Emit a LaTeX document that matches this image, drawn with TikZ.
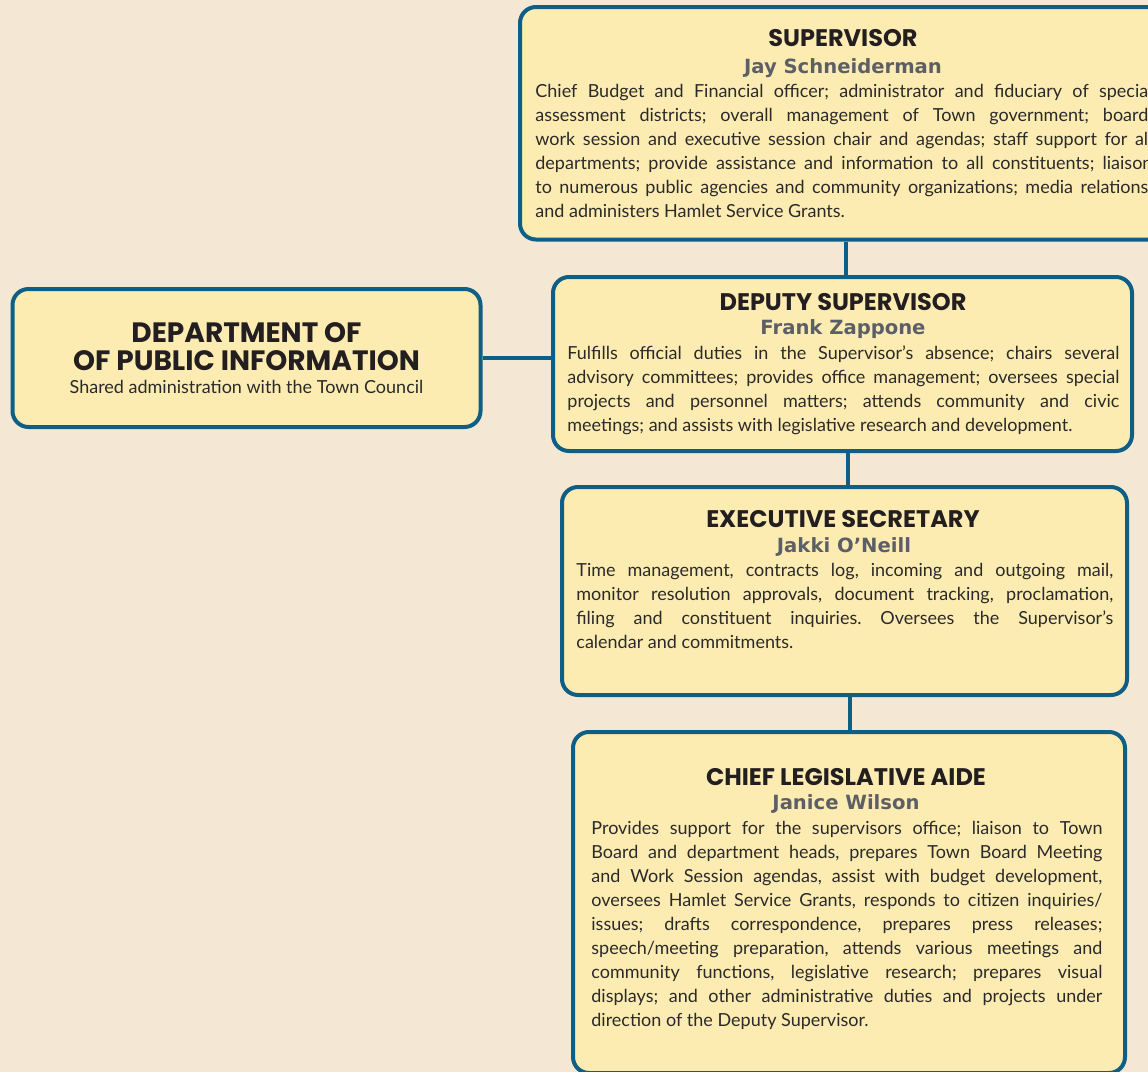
\documentclass[tikz,border=0pt]{standalone}
\usepackage{fontspec}
\setmainfont{Lato}
\newfontfamily\titlefont{Poppins}
\newfontfamily\namefont{DejaVu Sans}
\usetikzlibrary{positioning}

\definecolor{pagebg}{HTML}{F4E7D3}
\definecolor{boxfill}{HTML}{FDECB2}
\definecolor{orgblue}{HTML}{0E5F86}
\definecolor{titleink}{HTML}{231F20}
\definecolor{nameink}{HTML}{5D5F66}
\definecolor{bodyink}{HTML}{2B2A2A}

\tikzset{
  orgbox/.style={draw=orgblue, line width=2pt, fill=boxfill, rounded corners=8pt, inner sep=0pt},
  roletitle/.style={font=\titlefont\bfseries\fontsize{12}{14}\selectfont, text=titleink, anchor=base, inner sep=0pt},
  rolename/.style={font=\namefont\bfseries\fontsize{9.8}{12}\selectfont, text=nameink, anchor=base, inner sep=0pt},
  roletext/.style={font=\fontsize{9}{12}\selectfont\frenchspacing, text=bodyink, anchor=base west, align=justify, inner sep=0pt},
  link/.style={draw=orgblue, line width=2pt}
}

\begin{document}
\begin{tikzpicture}[x=0.5pt, y=-0.5pt]
\useasboundingbox (0,0) rectangle (1148,1072);
\fill[pagebg] (0,0) rectangle (1148,1072);
\clip (0,0) rectangle (1148,1072);

% boxes
\node[orgbox, minimum width=323pt, minimum height=116.25pt] (sup) at (843,123.25) {};
\node[orgbox, minimum width=234pt, minimum height=69pt] (info) at (246.5,358) {};
\node[orgbox, minimum width=289.5pt, minimum height=87pt] (deputy) at (842.5,364) {};
\node[orgbox, minimum width=282.5pt, minimum height=104pt] (secretary) at (844.5,591) {};
\node[orgbox, minimum width=276pt, minimum height=170.5pt] (aide) at (849,902.5) {};

% connectors
\draw[link] ([xshift=1.5pt]sup.south) -- ([xshift=1.5pt]sup.south |- deputy.north);
\draw[link] ([xshift=2.5pt]deputy.south) -- ([xshift=2.5pt]deputy.south |- secretary.north);
\draw[link] ([xshift=2.5pt]secretary.south) -- ([xshift=2.5pt]secretary.south |- aide.north);
\draw[link] (info.east) -- (info.east -| deputy.west);

% supervisor
\node[roletitle] (sup-title) at (843,46) {SUPERVISOR};
\node[rolename] (sup-name) at (843,73) {Jay Schneiderman};
\node[roletext, text width=308.5pt] (sup-text) at (535,97)
  {Chief Budget and Financial officer; administrator and fiduciary of special\linebreak
   assessment districts; overall management of Town government; board,\linebreak
   work session and executive session chair and agendas; staff support for all\linebreak
   departments; provide assistance and information to all constituents; liaison\linebreak
   to numerous public agencies and community organizations; media relations,\linebreak
   and administers Hamlet Service Grants.};

% public information
\node[roletitle, font=\titlefont\bfseries\fontsize{14}{14}\selectfont, align=center] (info-title) at (246.5,370)
  {DEPARTMENT OF\\OF PUBLIC INFORMATION};
\node[anchor=base, inner sep=0pt, text=bodyink, font=\fontsize{9}{12}\selectfont] (info-note) at (246.5,393)
  {Shared administration with the Town Council};

% deputy supervisor
\node[roletitle] (deputy-title) at (843,310) {DEPUTY SUPERVISOR};
\node[rolename] (deputy-name) at (843,334) {Frank Zappone};
\node[roletext, text width=276pt] (deputy-text) at (567,359)
  {Fulfills official duties in the Supervisor’s absence; chairs several\linebreak
   advisory committees; provides office management; oversees special\linebreak
   projects and personnel matters; attends community and civic\linebreak
   meetings; and assists with legislative research and development.};

% executive secretary
\node[roletitle] (secretary-title) at (843,527) {EXECUTIVE SECRETARY};
\node[rolename] (secretary-name) at (844,552) {Jakki O’Neill};
\node[roletext, text width=268.5pt] (secretary-text) at (576,576)
  {Time management, contracts log, incoming and outgoing mail,\linebreak
   monitor resolution approvals, document tracking, proclamation,\linebreak
   filing and constituent inquiries. Oversees the Supervisor’s\linebreak
   calendar and commitments.};

% chief legislative aide
\node[roletitle] (aide-title) at (846,785) {CHIEF LEGISLATIVE AIDE};
\node[rolename] (aide-name) at (846,809) {Janice Wilson};
\node[roletext, text width=255.5pt] (aide-text) at (591,834)
  {Provides support for the supervisors office; liaison to Town\linebreak
   Board and department heads, prepares Town Board Meeting\linebreak
   and Work Session agendas, assist with budget development,\linebreak
   oversees Hamlet Service Grants, responds to citizen inquiries/\linebreak
   issues; drafts correspondence, prepares press releases;\linebreak
   speech/meeting preparation, attends various meetings and\linebreak
   community functions, legislative research; prepares visual\linebreak
   displays; and other administrative duties and projects under\linebreak
   direction of the Deputy Supervisor.};
\end{tikzpicture}
\end{document}
